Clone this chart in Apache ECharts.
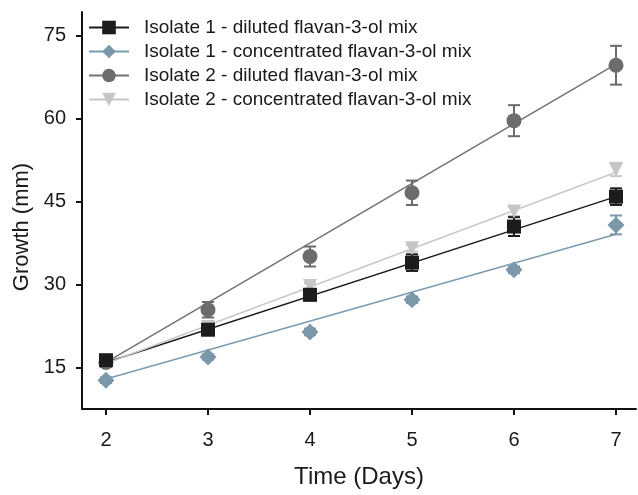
<!DOCTYPE html>
<html><head><meta charset="utf-8">
<script src="https://cdn.jsdelivr.net/npm/echarts@6/dist/echarts.min.js"></script>
<style>html,body{margin:0;padding:0;background:#fff}#c{width:638px;height:495px}</style>
</head><body><div id="c"></div>
<script>
const days = [2, 3, 4, 5, 6, 7];
const xTicks = [2, 3, 4, 5, 6, 7];
const yTicks = [15, 30, 45, 60, 75];
const names = [
  'Isolate 1 - diluted flavan-3-ol mix',
  'Isolate 1 - concentrated flavan-3-ol mix',
  'Isolate 2 - diluted flavan-3-ol mix',
  'Isolate 2 - concentrated flavan-3-ol mix'
];
// measured means
const iso1Dil = [16.4, 21.9, 28.2, 34.0, 40.5, 45.9];
const iso1Con = [12.8, 17.0, 21.5, 27.3, 32.7, 40.8];
const iso2Dil = [16.0, 25.5, 35.1, 46.6, 59.6, 69.6];
const iso2Con = [16.0, 22.4, 29.8, 36.6, 43.2, 50.8];
// error (half-width)
const iso1DilErr = [0.8, 0.8, 1.0, 1.5, 1.7, 1.5];
const iso1ConErr = [0.5, 0.5, 0.6, 0.6, 0.6, 1.7];
const iso2DilErr = [0.8, 1.4, 1.8, 2.2, 2.8, 3.5];
const iso2ConErr = [0.5, 0.5, 0.5, 0.6, 0.8, 1.2];
// fitted trend lines, read at day 2 and day 7
const fitDays = [2, 7];
const iso1DilFit = [16.0, 45.9];
const iso1ConFit = [13.0, 39.1];
const iso2DilFit = [16.0, 69.8];
const iso2ConFit = [15.8, 50.3];

const colors = ['#1c1c1c', '#7a98aa', '#6c6c6c', '#c6c6c6'];
const lineColors = ['#1c1c1c', '#7b9bb0', '#727272', '#c8c8c8'];
const symbols = ['rect', 'diamond', 'circle', 'triangle'];
const rotates = [0, 0, 0, 180];
const symSizes = [14, 17, 15, 14];
const means = [iso1Dil, iso1Con, iso2Dil, iso2Con];
const errs = [iso1DilErr, iso1ConErr, iso2DilErr, iso2ConErr];
const fits = [iso1DilFit, iso1ConFit, iso2DilFit, iso2ConFit];
const FONT = "'Liberation Sans', Arial, Helvetica, sans-serif";

const series = [];
const drawOrder = [3, 2, 1, 0];
// fit lines (named, for legend)
for (let i = 0; i < 4; i++) {
  series.push({
    name: names[i], type: 'line', symbol: symbols[i], symbolRotate: rotates[i],
    showSymbol: false, silent: true, z: 2,
    itemStyle: {color: colors[i]},
    lineStyle: {color: lineColors[i], width: 1.5},
    data: fitDays.map((d, k) => [d, fits[i][k]])
  });
}
// error bars
drawOrder.forEach(i => {
  series.push({
    type: 'custom', z: 3, silent: true,
    data: days.map((d, k) => [d, means[i][k] - errs[i][k], means[i][k] + errs[i][k]]),
    renderItem: function (params, api) {
      const x = api.value(0);
      const lo = api.coord([x, api.value(1)]);
      const hi = api.coord([x, api.value(2)]);
      const w = 6;
      const st = {stroke: colors[i], lineWidth: 2};
      return {type: 'group', children: [
        {type: 'line', shape: {x1: lo[0], y1: lo[1], x2: hi[0], y2: hi[1]}, style: st},
        {type: 'line', shape: {x1: lo[0] - w, y1: lo[1], x2: lo[0] + w, y2: lo[1]}, style: st},
        {type: 'line', shape: {x1: hi[0] - w, y1: hi[1], x2: hi[0] + w, y2: hi[1]}, style: st}
      ]};
    }
  });
});
// markers
drawOrder.forEach(i => {
  series.push({
    name: 'm' + i, type: 'scatter', z: 4, symbol: symbols[i], symbolRotate: rotates[i],
    symbolSize: symSizes[i], itemStyle: {color: colors[i], opacity: 1},
    data: days.map((d, k) => [d, means[i][k]])
  });
});

const chart = echarts.init(document.getElementById('c'), null, {renderer: 'canvas'});
chart.setOption({
  animation: false,
  backgroundColor: '#ffffff',
  textStyle: {fontFamily: FONT},
  grid: {left: 82, top: 12, right: 2, bottom: 86, containLabel: false},
  legend: {
    orient: 'vertical', left: 83, top: 13, itemWidth: 40, itemHeight: 17, itemGap: 5,
    data: names.map((n, i) => ({name: n, lineStyle: {color: lineColors[i], width: 2}})),
    textStyle: {fontFamily: FONT, fontSize: 19, color: '#1a1a1a', padding: [0, 0, 0, 10]},
    selectedMode: false
  },
  xAxis: {
    type: 'value', min: 1.765, max: 7.196,
    name: 'Time (Days)', nameLocation: 'middle', nameGap: 56,
    nameTextStyle: {fontFamily: FONT, fontSize: 24, color: '#1a1a1a'},
    axisLine: {show: true, lineStyle: {color: '#111', width: 2}},
    axisTick: {show: true, length: 6, inside: false, lineStyle: {color: '#111', width: 2}, customValues: xTicks},
    axisLabel: {customValues: xTicks, fontFamily: FONT, fontSize: 20, color: '#1a1a1a', margin: 21},
    splitLine: {show: false}
  },
  yAxis: {
    type: 'value', min: 7.6, max: 79.2,
    axisLine: {show: true, lineStyle: {color: '#111', width: 2}},
    axisTick: {show: true, length: 6, inside: false, lineStyle: {color: '#111', width: 2}, customValues: yTicks},
    axisLabel: {customValues: yTicks, fontFamily: FONT, fontSize: 20, color: '#1a1a1a', margin: 16},
    splitLine: {show: false}
  },
  graphic: [{
    type: 'text', x: 22, y: 227, rotation: Math.PI / 2,
    style: {text: 'Growth (mm)', font: '22px ' + FONT, fill: '#1a1a1a', textAlign: 'center', textVerticalAlign: 'middle'}
  }],
  series: series
});
</script></body></html>
